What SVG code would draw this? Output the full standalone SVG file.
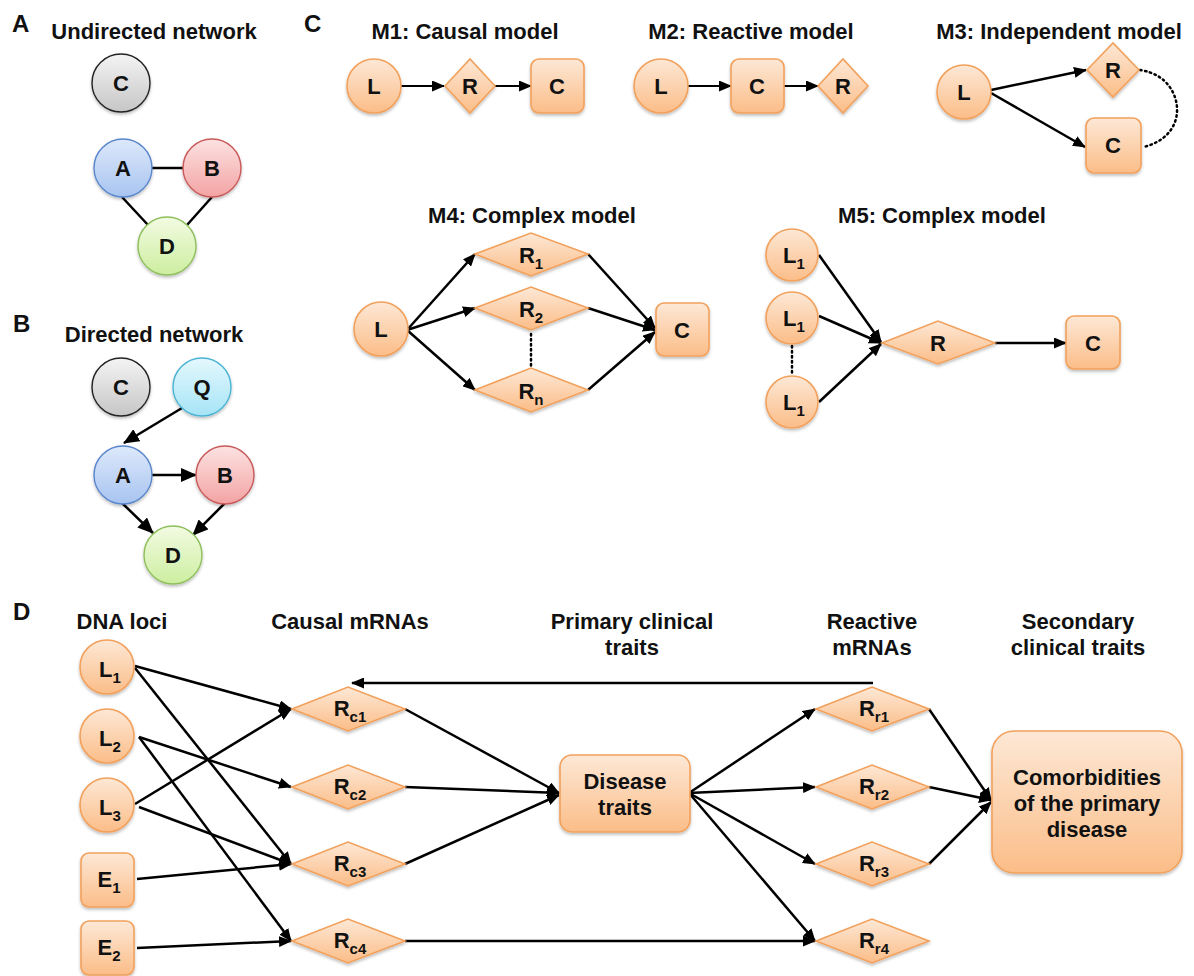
<svg xmlns="http://www.w3.org/2000/svg" width="1194" height="976" viewBox="0 0 1194 976">
  <defs>
    <linearGradient id="og" x1="0" y1="0" x2="0" y2="1">
      <stop offset="0" stop-color="#fde8d6"/>
      <stop offset="1" stop-color="#fbbd88"/>
    </linearGradient>
    <linearGradient id="gg" x1="0" y1="0" x2="0" y2="1">
      <stop offset="0" stop-color="#f4f4f4"/>
      <stop offset="1" stop-color="#c6c6c6"/>
    </linearGradient>
    <linearGradient id="bg" x1="0" y1="0" x2="0" y2="1">
      <stop offset="0" stop-color="#dde9fb"/>
      <stop offset="1" stop-color="#a8c4f0"/>
    </linearGradient>
    <linearGradient id="rg" x1="0" y1="0" x2="0" y2="1">
      <stop offset="0" stop-color="#fde2e2"/>
      <stop offset="1" stop-color="#f3a3a3"/>
    </linearGradient>
    <linearGradient id="lg" x1="0" y1="0" x2="0" y2="1">
      <stop offset="0" stop-color="#f2fbe2"/>
      <stop offset="1" stop-color="#cdeea0"/>
    </linearGradient>
    <linearGradient id="cg" x1="0" y1="0" x2="0" y2="1">
      <stop offset="0" stop-color="#e4f8fd"/>
      <stop offset="1" stop-color="#a6e4f6"/>
    </linearGradient>
    <filter id="sh" x="-20%" y="-20%" width="140%" height="150%">
      <feDropShadow dx="0" dy="2" stdDeviation="1.5" flood-color="#000" flood-opacity="0.25"/>
    </filter>
    <marker id="arr" markerUnits="userSpaceOnUse" markerWidth="13" markerHeight="11" refX="12" refY="5.5" orient="auto">
      <path d="M0,0 L13,5.5 L0,11 z" fill="#000"/>
    </marker>
    <marker id="arrL" markerUnits="userSpaceOnUse" markerWidth="16" markerHeight="14" refX="15" refY="7" orient="auto">
      <path d="M0,0 L16,7 L0,14 z" fill="#000"/>
    </marker>
  </defs>
  <style>
    text { font-family: "Liberation Sans", Arial, sans-serif; font-weight: bold; fill: #111; }
    .pl { font-size: 24px; }
    .ti { font-size: 22px; text-anchor: middle; }
    .nl { font-size: 22px; text-anchor: middle; }
    .sub { font-size: 15px; }
    .o { fill: url(#og); stroke: #f2a15c; stroke-width: 1.6; filter: url(#sh); }
    .gray { fill: url(#gg); stroke: #222; stroke-width: 1.4; filter: url(#sh); }
    .blue { fill: url(#bg); stroke: #5a86cc; stroke-width: 1.4; filter: url(#sh); }
    .red { fill: url(#rg); stroke: #c85a5a; stroke-width: 1.4; filter: url(#sh); }
    .green { fill: url(#lg); stroke: #8fbf5c; stroke-width: 1.4; filter: url(#sh); }
    .cyan { fill: url(#cg); stroke: #4cb3d3; stroke-width: 1.4; filter: url(#sh); }
    .e { fill: none; stroke: #000; stroke-width: 2.5; }
    .es { fill: none; stroke: #000; stroke-width: 2.2; }
    .dot { fill: none; stroke: #000; stroke-width: 2.5; stroke-dasharray: 1.5 3.5; stroke-linecap: round; }
  </style>

  <!-- panel letters and titles -->
  <g id="labels">
    <text class="pl" x="12" y="32">A</text>
    <text class="pl" x="13" y="332">B</text>
    <text class="pl" x="304" y="32">C</text>
    <text class="pl" x="13" y="620">D</text>
    <text class="ti" x="154" y="39">Undirected network</text>
    <text class="ti" x="154" y="342">Directed network</text>
    <text class="ti" x="465" y="39">M1: Causal model</text>
    <text class="ti" x="751" y="39">M2: Reactive model</text>
    <text class="ti" x="1059" y="39">M3: Independent model</text>
    <text class="ti" x="532" y="223">M4: Complex model</text>
    <text class="ti" x="942" y="223">M5: Complex model</text>
    <text class="ti" x="122" y="629">DNA loci</text>
    <text class="ti" x="350" y="629">Causal mRNAs</text>
    <text class="ti" x="632" y="629">Primary clinical</text>
    <text class="ti" x="632" y="655">traits</text>
    <text class="ti" x="872" y="629">Reactive</text>
    <text class="ti" x="872" y="655">mRNAs</text>
    <text class="ti" x="1078" y="629">Secondary</text>
    <text class="ti" x="1078" y="655">clinical traits</text>
  </g>

  <!-- connectors -->
  <g id="connectors">
    <!-- A: undirected -->
    <line class="e" x1="152" y1="168" x2="183" y2="168"/>
    <line class="e" x1="122" y1="197" x2="148" y2="225"/>
    <line class="e" x1="212" y1="197" x2="187" y2="225"/>
    <!-- B: directed -->
    <line class="e" x1="182" y1="408" x2="124" y2="443" marker-end="url(#arrL)"/>
    <line class="e" x1="152" y1="475" x2="196" y2="475" marker-end="url(#arrL)"/>
    <line class="e" x1="122" y1="503" x2="153" y2="533" marker-end="url(#arrL)"/>
    <line class="e" x1="225" y1="503" x2="193" y2="535" marker-end="url(#arrL)"/>
    <!-- M1 -->
    <line class="es" x1="401" y1="86" x2="444" y2="86" marker-end="url(#arr)"/>
    <line class="es" x1="495" y1="86" x2="531" y2="86" marker-end="url(#arr)"/>
    <!-- M2 -->
    <line class="es" x1="688" y1="86" x2="731" y2="86" marker-end="url(#arr)"/>
    <line class="es" x1="784" y1="86" x2="818" y2="86" marker-end="url(#arr)"/>
    <!-- M3 -->
    <line class="e" x1="991" y1="90" x2="1086" y2="70" marker-end="url(#arr)"/>
    <line class="e" x1="991" y1="93" x2="1085" y2="147" marker-end="url(#arr)"/>
    <path class="dot" d="M1140,70 C1168,74 1178,96 1177,112 C1176,130 1162,143 1143,147"/>
    <!-- M4 -->
    <line class="e" x1="407" y1="330" x2="475" y2="254" marker-end="url(#arr)"/>
    <line class="e" x1="407" y1="330" x2="475" y2="308" marker-end="url(#arr)"/>
    <line class="e" x1="407" y1="330" x2="475" y2="390" marker-end="url(#arr)"/>
    <line class="e" x1="588" y1="254" x2="655" y2="328" marker-end="url(#arr)"/>
    <line class="e" x1="588" y1="308" x2="655" y2="330" marker-end="url(#arr)"/>
    <line class="e" x1="588" y1="390" x2="655" y2="332" marker-end="url(#arr)"/>
    <line class="dot" x1="531" y1="334" x2="531" y2="366"/>
    <!-- M5 -->
    <line class="e" x1="819" y1="255" x2="881" y2="342" marker-end="url(#arr)"/>
    <line class="e" x1="819" y1="316" x2="881" y2="343" marker-end="url(#arr)"/>
    <line class="e" x1="819" y1="402" x2="881" y2="344" marker-end="url(#arr)"/>
    <line class="e" x1="995" y1="343" x2="1066" y2="343" marker-end="url(#arr)"/>
    <line class="dot" x1="792" y1="346" x2="792" y2="376"/>
    <!-- D: loci to causal mRNAs -->
    <line class="e" x1="135" y1="666" x2="291" y2="709" marker-end="url(#arr)"/>
    <line class="e" x1="135" y1="668" x2="291" y2="864" marker-end="url(#arr)"/>
    <line class="e" x1="139" y1="737" x2="291" y2="787" marker-end="url(#arr)"/>
    <line class="e" x1="139" y1="737" x2="291" y2="941" marker-end="url(#arr)"/>
    <line class="e" x1="135" y1="804" x2="291" y2="709" marker-end="url(#arr)"/>
    <line class="e" x1="139" y1="807" x2="291" y2="864" marker-end="url(#arr)"/>
    <line class="e" x1="137" y1="879" x2="291" y2="864" marker-end="url(#arr)"/>
    <line class="e" x1="137" y1="948" x2="291" y2="941" marker-end="url(#arr)"/>
    <!-- D: causal mRNAs to disease traits -->
    <line class="e" x1="405" y1="709" x2="559" y2="793" marker-end="url(#arr)"/>
    <line class="e" x1="405" y1="787" x2="559" y2="793" marker-end="url(#arr)"/>
    <line class="e" x1="405" y1="864" x2="559" y2="795" marker-end="url(#arr)"/>
    <line class="e" x1="405" y1="941" x2="815" y2="941" marker-end="url(#arr)"/>
    <!-- D: disease traits to reactive mRNAs -->
    <line class="e" x1="689" y1="793" x2="815" y2="709" marker-end="url(#arr)"/>
    <line class="e" x1="689" y1="793" x2="815" y2="787" marker-end="url(#arr)"/>
    <line class="e" x1="689" y1="793" x2="815" y2="864" marker-end="url(#arr)"/>
    <line class="e" x1="689" y1="793" x2="815" y2="941" marker-end="url(#arr)"/>
    <!-- D: reactive mRNAs to comorbidities -->
    <line class="e" x1="929" y1="709" x2="991" y2="800" marker-end="url(#arr)"/>
    <line class="e" x1="929" y1="787" x2="991" y2="800" marker-end="url(#arr)"/>
    <line class="e" x1="929" y1="864" x2="991" y2="802" marker-end="url(#arr)"/>
    <!-- D: feedback -->
    <line class="e" x1="873" y1="683" x2="352" y2="683" marker-end="url(#arr)"/>
  </g>

  <!-- A: undirected network -->
  <g id="a-C"><circle class="gray" cx="121" cy="83" r="29"/><text class="nl" x="121" y="91">C</text></g>
  <g id="a-A"><circle class="blue" cx="123" cy="168" r="29"/><text class="nl" x="123" y="176">A</text></g>
  <g id="a-B"><circle class="red" cx="212" cy="168" r="29"/><text class="nl" x="212" y="176">B</text></g>
  <g id="a-D"><circle class="green" cx="167" cy="246" r="29"/><text class="nl" x="167" y="254">D</text></g>

  <!-- B: directed network -->
  <g id="b-C"><circle class="gray" cx="121" cy="387" r="29"/><text class="nl" x="121" y="395">C</text></g>
  <g id="b-Q"><circle class="cyan" cx="202" cy="387" r="29"/><text class="nl" x="202" y="395">Q</text></g>
  <g id="b-A"><circle class="blue" cx="123" cy="475" r="29"/><text class="nl" x="123" y="483">A</text></g>
  <g id="b-B"><circle class="red" cx="225" cy="475" r="29"/><text class="nl" x="225" y="483">B</text></g>
  <g id="b-D"><circle class="green" cx="173" cy="555" r="29"/><text class="nl" x="173" y="563">D</text></g>

  <!-- M1 -->
  <g id="m1-L"><circle class="o" cx="374" cy="86" r="27"/><text class="nl" x="374" y="94">L</text></g>
  <g id="m1-R"><polygon class="o" points="445,86 470,59 495,86 470,113"/><text class="nl" x="470" y="94">R</text></g>
  <g id="m1-C"><rect class="o" x="531" y="59" width="53" height="54" rx="8"/><text class="nl" x="557" y="94">C</text></g>

  <!-- M2 -->
  <g id="m2-L"><circle class="o" cx="661" cy="86" r="27"/><text class="nl" x="661" y="94">L</text></g>
  <g id="m2-C"><rect class="o" x="731" y="59" width="53" height="54" rx="8"/><text class="nl" x="757" y="94">C</text></g>
  <g id="m2-R"><polygon class="o" points="818,86 843,59 868,86 843,113"/><text class="nl" x="843" y="94">R</text></g>

  <!-- M3 -->
  <g id="m3-L"><circle class="o" cx="964" cy="92" r="27"/><text class="nl" x="964" y="100">L</text></g>
  <g id="m3-R"><polygon class="o" points="1087,70 1113,43 1139,70 1113,97"/><text class="nl" x="1113" y="78">R</text></g>
  <g id="m3-C"><rect class="o" x="1086" y="118" width="55" height="55" rx="8"/><text class="nl" x="1113" y="153">C</text></g>

  <!-- M4 -->
  <g id="m4-L"><circle class="o" cx="381" cy="329" r="27"/><text class="nl" x="381" y="337">L</text></g>
  <g id="m4-R1"><polygon class="o" points="475,254 531,233 588,254 531,276"/><text class="nl" x="531" y="263">R<tspan class="sub" dy="6">1</tspan></text></g>
  <g id="m4-R2"><polygon class="o" points="475,308 531,287 588,308 531,330"/><text class="nl" x="531" y="317">R<tspan class="sub" dy="6">2</tspan></text></g>
  <g id="m4-Rn"><polygon class="o" points="475,390 531,368 588,390 531,412"/><text class="nl" x="531" y="399">R<tspan class="sub" dy="6">n</tspan></text></g>
  <g id="m4-C"><rect class="o" x="656" y="303" width="53" height="53" rx="8"/><text class="nl" x="682" y="338">C</text></g>

  <!-- M5 -->
  <g id="m5-L1a"><circle class="o" cx="792" cy="255" r="26"/><text class="nl" x="794" y="263">L<tspan class="sub" dy="6">1</tspan></text></g>
  <g id="m5-L1b"><circle class="o" cx="792" cy="318" r="26"/><text class="nl" x="794" y="326">L<tspan class="sub" dy="6">1</tspan></text></g>
  <g id="m5-L1c"><circle class="o" cx="792" cy="402" r="26"/><text class="nl" x="794" y="410">L<tspan class="sub" dy="6">1</tspan></text></g>
  <g id="m5-R"><polygon class="o" points="882,343 938,321 995,343 938,364"/><text class="nl" x="938" y="351">R</text></g>
  <g id="m5-C"><rect class="o" x="1066" y="316" width="54" height="53" rx="8"/><text class="nl" x="1093" y="351">C</text></g>

  <!-- D: DNA loci -->
  <g id="d-L1"><circle class="o" cx="107" cy="667" r="27"/><text class="nl" x="110" y="677">L<tspan class="sub" dy="6">1</tspan></text></g>
  <g id="d-L2"><circle class="o" cx="107" cy="736" r="27"/><text class="nl" x="110" y="746">L<tspan class="sub" dy="6">2</tspan></text></g>
  <g id="d-L3"><circle class="o" cx="107" cy="805" r="27"/><text class="nl" x="110" y="815">L<tspan class="sub" dy="6">3</tspan></text></g>
  <g id="d-E1"><rect class="o" x="81" y="853" width="53" height="54" rx="8"/><text class="nl" x="109" y="887">E<tspan class="sub" dy="6">1</tspan></text></g>
  <g id="d-E2"><rect class="o" x="81" y="921" width="53" height="54" rx="8"/><text class="nl" x="109" y="955">E<tspan class="sub" dy="6">2</tspan></text></g>

  <!-- D: causal mRNAs -->
  <g id="d-Rc1"><polygon class="o" points="292,709 348,687 405,709 348,731"/><text class="nl" x="350" y="716">R<tspan class="sub" dy="6">c1</tspan></text></g>
  <g id="d-Rc2"><polygon class="o" points="292,787 348,765 405,787 348,809"/><text class="nl" x="350" y="794">R<tspan class="sub" dy="6">c2</tspan></text></g>
  <g id="d-Rc3"><polygon class="o" points="292,864 348,842 405,864 348,886"/><text class="nl" x="350" y="871">R<tspan class="sub" dy="6">c3</tspan></text></g>
  <g id="d-Rc4"><polygon class="o" points="292,941 348,919 405,941 348,963"/><text class="nl" x="350" y="948">R<tspan class="sub" dy="6">c4</tspan></text></g>

  <!-- D: primary clinical traits -->
  <g id="d-disease"><rect class="o" x="560" y="755" width="130" height="77" rx="12"/><text class="ti" x="625" y="789">Disease</text><text class="ti" x="625" y="815">traits</text></g>

  <!-- D: reactive mRNAs -->
  <g id="d-Rr1"><polygon class="o" points="816,709 872,687 929,709 872,731"/><text class="nl" x="874" y="716">R<tspan class="sub" dy="6">r1</tspan></text></g>
  <g id="d-Rr2"><polygon class="o" points="816,787 872,765 929,787 872,809"/><text class="nl" x="874" y="794">R<tspan class="sub" dy="6">r2</tspan></text></g>
  <g id="d-Rr3"><polygon class="o" points="816,864 872,842 929,864 872,886"/><text class="nl" x="874" y="871">R<tspan class="sub" dy="6">r3</tspan></text></g>
  <g id="d-Rr4"><polygon class="o" points="816,941 872,919 929,941 872,963"/><text class="nl" x="874" y="948">R<tspan class="sub" dy="6">r4</tspan></text></g>

  <!-- D: secondary clinical traits -->
  <g id="d-comorbid"><rect class="o" x="992" y="731" width="190" height="142" rx="22"/><text class="ti" x="1087" y="785">Comorbidities</text><text class="ti" x="1087" y="811">of the primary</text><text class="ti" x="1087" y="837">disease</text></g>
</svg>
